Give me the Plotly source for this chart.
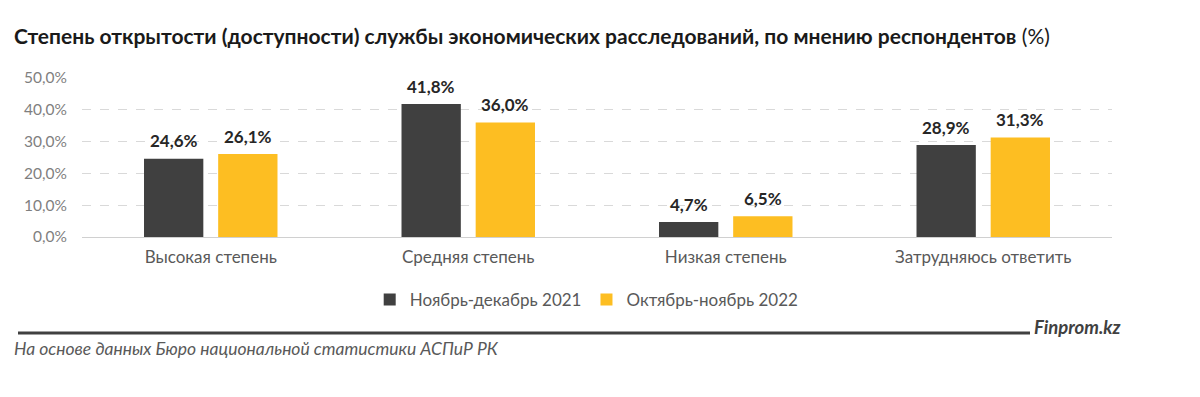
import plotly.graph_objects as go

categories = ["Высокая степень", "Средняя степень", "Низкая степень", "Затрудняюсь ответить"]
series_2021 = [24.6, 41.8, 4.7, 28.9]
series_2022 = [26.1, 36.0, 6.5, 31.3]
name_2021 = "Ноябрь-декабрь 2021"
name_2022 = "Октябрь-ноябрь 2022"
tick_vals = [0, 10, 20, 30, 40, 50]
tick_text = ["0,0%", "10,0%", "20,0%", "30,0%", "40,0%", "50,0%"]

def fmt(v):
    return f"{v:.1f}%".replace(".", ",")

FONT = "Lato, 'Open Sans', sans-serif"

fig = go.Figure()
fig.add_trace(go.Bar(
    x=categories, y=series_2021, name=name_2021,
    marker=dict(color="#404040", line=dict(width=0)),
))
fig.add_trace(go.Bar(
    x=categories, y=series_2022, name=name_2022,
    marker=dict(color="#FDBE22", line=dict(width=0)),
))

# value labels, placed at the bar tops via data coordinates
for vals, xs in ((series_2021, -37), (series_2022, 37)):
    for c, v in zip(categories, vals):
        fig.add_annotation(
            x=c, y=v, xref="x", yref="y", text=f"<b>{fmt(v)}</b>",
            showarrow=False, xshift=xs, yshift=18, yanchor="middle",
            font=dict(family=FONT, size=17, color="#262626"),
        )

fig.update_layout(
    width=1200, height=397,
    margin=dict(l=74, r=96, t=70, b=168),
    paper_bgcolor="white", plot_bgcolor="white",
    barmode="group", bargap=0.424, bargroupgap=0.2,
    font=dict(family=FONT, color="#595959"),
    showlegend=True,
    legend=dict(orientation="h", x=0.49, xanchor="center", y=(237 - 300) / 159, yanchor="middle",
                font=dict(size=17, color="#595959"), itemwidth=30, tracegroupgap=0,
                traceorder="normal"),
)
fig.update_yaxes(
    range=[0, 50], tickvals=tick_vals, ticktext=tick_text,
    showgrid=True, gridcolor="#D9D9D9", griddash="dash", gridwidth=1,
    zeroline=True, zerolinecolor="#D0D0D0", zerolinewidth=1,
    tickfont=dict(size=15.5, color="#7F7F7F"), ticks="", ticklabelstandoff=14,
)
fig.update_xaxes(
    showgrid=False, showline=False, ticks="",
    tickfont=dict(size=17, color="#595959"), ticklabelstandoff=8,
)

fig.add_annotation(
    text="<b>Степень открытости (доступности) службы экономических расследований, по мнению респондентов</b> (%)",
    xref="paper", yref="paper", x=(12 - 82) / 1030, y=1.0, xanchor="left", yanchor="middle",
    yshift=43, showarrow=False,
    font=dict(family=FONT, size=21, color="#1a1a1a"),
)

fig.add_shape(type="line", xref="paper", yref="paper",
              x0=(18 - 82) / 1030, x1=(1030 - 82) / 1030,
              y0=(237 - 333) / 159, y1=(237 - 333) / 159,
              line=dict(color="#404040", width=3))
fig.add_annotation(
    text="<b><i>Finprom.kz</i></b>", xref="paper", yref="paper",
    x=(1032 - 82) / 1030, y=(237 - 327) / 159, xanchor="left", yanchor="middle",
    showarrow=False, font=dict(family=FONT, size=18.5, color="#404040"),
)
fig.add_annotation(
    text="<i>На основе данных Бюро национальной статистики АСПиР РК</i>", xref="paper", yref="paper",
    x=(12 - 82) / 1030, y=(237 - 348) / 159, xanchor="left", yanchor="middle",
    showarrow=False, font=dict(family=FONT, size=17.5, color="#595959"),
)

fig.write_html("out.html")
